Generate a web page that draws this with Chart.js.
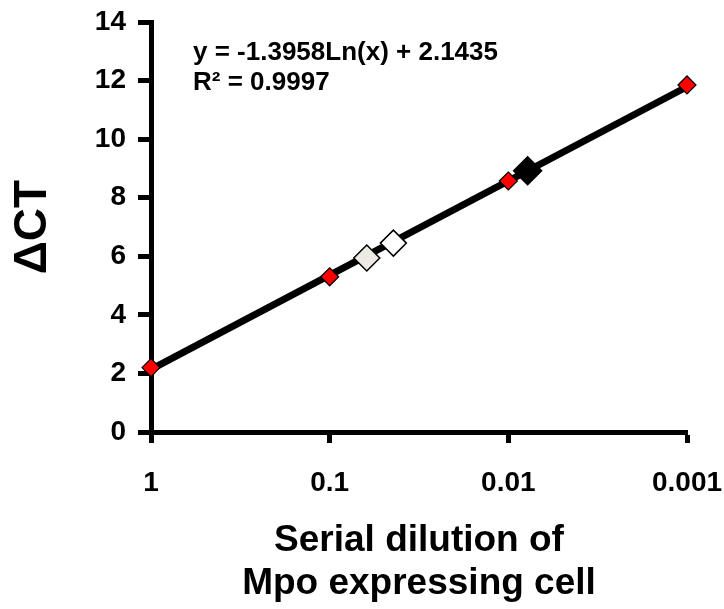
<!DOCTYPE html>
<html>
<head>
<meta charset="utf-8">
<script src="https://cdn.jsdelivr.net/npm/chart.js@4"></script>
<style>
  html, body { margin: 0; padding: 0; background: #fff; }
  #wrap { width: 724px; height: 609px; }
</style>
</head>
<body>
<div id="wrap"><canvas id="dilutionChart" width="724" height="609"></canvas></div>
<script>
// standard curve points (red)
const dilutionX = [1, 0.1, 0.01, 0.001];
const deltaCtY = [2.2, 5.3, 8.57, 11.85];

// sample points
const sampleGrayX = [0.062];
const sampleGrayY = [5.94];
const sampleWhiteX = [0.044];
const sampleWhiteY = [6.45];
const sampleBlackX = [0.0078];
const sampleBlackY = [8.92];

// log trendline ends (straight on log axis)
const trendX = [1, 0.001];
const trendY = [2.14, 11.79];

const xTickValues = [1, 0.1, 0.01, 0.001];
const xTickLabels = ['1', '0.1', '0.01', '0.001'];
const equationText = 'y = -1.3958Ln(x) + 2.1435';
const rSquaredText = 'R\u00B2 = 0.9997';

const FONT = '"Liberation Sans", Arial, sans-serif';

function toPoints(xs, ys) {
    return xs.map((x, i) => ({ x: x, y: ys[i] }));
}

const equationPlugin = {
    id: 'equationText',
    afterDraw(chart) {
        const ctx = chart.ctx;
        ctx.save();
        ctx.fillStyle = '#000';
        ctx.font = 'bold 26px ' + FONT;
        ctx.textAlign = 'left';
        ctx.textBaseline = 'alphabetic';
        ctx.fillText(equationText, 193, 60);
        ctx.fillText(rSquaredText, 193, 90);
        ctx.restore();
    }
};

new Chart(document.getElementById('dilutionChart'), {
    type: 'scatter',
    data: {
        datasets: [
            {
                label: 'Standard',
                data: toPoints(dilutionX, deltaCtY),
                pointStyle: 'rectRot',
                pointRadius: 9,
                backgroundColor: '#ff0000',
                borderColor: '#000',
                borderWidth: 1.2,
                clip: false
            },
            {
                label: 'Sample A',
                data: toPoints(sampleGrayX, sampleGrayY),
                pointStyle: 'rectRot',
                pointRadius: 13,
                backgroundColor: '#eceae2',
                borderColor: '#000',
                borderWidth: 1.5,
                clip: false
            },
            {
                label: 'Sample B',
                data: toPoints(sampleWhiteX, sampleWhiteY),
                pointStyle: 'rectRot',
                pointRadius: 13,
                backgroundColor: '#ffffff',
                borderColor: '#000',
                borderWidth: 1.5,
                clip: false
            },
            {
                label: 'Sample C',
                data: toPoints(sampleBlackX, sampleBlackY),
                pointStyle: 'rectRot',
                pointRadius: 14,
                backgroundColor: '#000',
                borderColor: '#000',
                borderWidth: 1.5,
                clip: false
            },
            {
                label: 'Trend',
                data: toPoints(trendX, trendY),
                showLine: true,
                pointRadius: 0,
                borderColor: '#000',
                borderWidth: 7,
                borderCapStyle: 'round',
                clip: false
            }
        ]
    },
    options: {
        responsive: false,
        animation: false,
        devicePixelRatio: 1,
        layout: { padding: { top: 22, right: 37, bottom: 0, left: 0 } },
        plugins: {
            legend: { display: false },
            tooltip: { enabled: false }
        },
        scales: {
            x: {
                type: 'logarithmic',
                reverse: true,
                min: 0.001,
                max: 1,
                afterBuildTicks: scale => {
                    scale.ticks = xTickValues.map(v => ({ value: v }));
                },
                afterFit: scale => {
                    scale.height = 177;
                    scale.paddingLeft = 0;
                    scale.paddingRight = 0;
                },
                ticks: {
                    color: '#000',
                    font: { family: FONT, size: 28, weight: 'bold' },
                    padding: 23,
                    maxRotation: 0,
                    autoSkip: false,
                    callback: (value) => xTickLabels[xTickValues.indexOf(value)] ?? ''
                },
                grid: {
                    display: true,
                    drawOnChartArea: false,
                    drawTicks: true,
                    tickLength: 11,
                    tickWidth: 5,
                    tickColor: '#000'
                },
                border: { display: true, color: '#000', width: 5 },
                title: {
                    display: true,
                    text: ['Serial dilution of', 'Mpo expressing cell'],
                    color: '#000',
                    font: { family: FONT, size: 37, weight: 'bold', lineHeight: 1.16 },
                    padding: { top: 0, bottom: 4 }
                }
            },
            y: {
                min: 0,
                max: 14,
                afterFit: scale => {
                    scale.width = 151;
                    scale.paddingTop = 0;
                    scale.paddingBottom = 0;
                },
                ticks: {
                    stepSize: 2,
                    color: '#000',
                    font: { family: FONT, size: 28, weight: 'bold' },
                    padding: 12
                },
                grid: {
                    display: true,
                    drawOnChartArea: false,
                    drawTicks: true,
                    tickLength: 13,
                    tickWidth: 5,
                    tickColor: '#000'
                },
                border: { display: true, color: '#000', width: 5 },
                title: {
                    display: true,
                    text: '\u0394CT',
                    color: '#000',
                    font: { family: FONT, size: 46, weight: 'bold', lineHeight: 1 },
                    padding: { top: 10, bottom: 0 }
                }
            }
        }
    },
    plugins: [equationPlugin]
});
</script>
</body>
</html>
